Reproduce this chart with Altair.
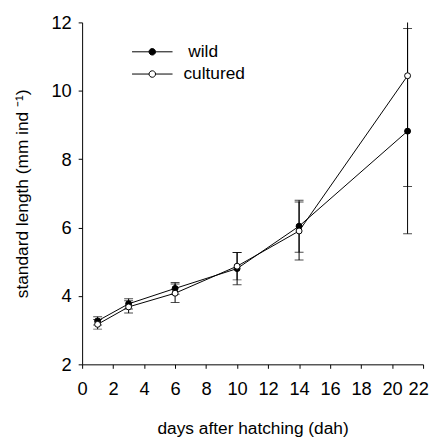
import altair as alt
import pandas as pd

# ---- data ----
days = [1, 3, 6, 10, 14, 21]
wild_mean = [3.27, 3.77, 4.22, 4.80, 6.04, 8.82]
wild_err = [0.12, 0.15, 0.17, 0.47, 0.76, 3.00]
cult_mean = [3.17, 3.68, 4.08, 4.87, 5.90, 10.44]
cult_err = [0.14, 0.18, 0.27, 0.40, 0.85, 3.24]
series = ["wild", "cultured"]
x_ticks = [0, 2, 4, 6, 8, 10, 12, 14, 16, 18, 20, 22]
y_ticks = [2, 4, 6, 8, 10, 12]

rows = []
for name, means, errs in [("wild", wild_mean, wild_err), ("cultured", cult_mean, cult_err)]:
    for d, m, e in zip(days, means, errs):
        rows.append(dict(day=d, mean=m, lo=m - e, hi=m + e, series=name))
df = pd.DataFrame(rows)

FONT = "Liberation Sans"
LFS = 18.5
TFS = 17.5

xscale = alt.Scale(domain=[0, 22], nice=False, zero=False)
yscale = alt.Scale(domain=[2, 12], nice=False, zero=False)

x_axis = alt.Axis(values=x_ticks, tickCount=12, title="days after hatching (dah)", format="d",
                  labelPadding=12, titleY=70, titleBaseline="alphabetic",
                  labelOverlap=False, labelFlush=False,
                  labelOffset={"condition": {"test": "datum.value == 22", "value": -5}, "value": 0})
y_axis = alt.Axis(values=y_ticks, title="standard length (mm ind \u207b\u00b9)", format="d",
                  labelPadding=7, titleX=-60, titleY=173, titleBaseline="middle",
                  titleAlign="center", titleAngle=270, labelOverlap=False, labelFlush=False)


def X(field):
    return alt.X(field, type="quantitative", scale=xscale, axis=x_axis)


def Y(field):
    return alt.Y(field, type="quantitative", scale=yscale, axis=y_axis)


base = alt.Chart(df)

lines = base.mark_line(color="black", strokeWidth=1).encode(
    x=X("day"), y=Y("mean"), detail="series:N",
)

rules = base.mark_rule(color="black", strokeWidth=1, clip=True).encode(
    x=X("day"), y=Y("lo"), y2="hi:Q"
)
cap_lo = base.mark_tick(orient="horizontal", size=9, thickness=1, color="black", clip=True).encode(
    x=X("day"), y=Y("lo")
)
cap_hi = base.mark_tick(orient="horizontal", size=9, thickness=1, color="black", clip=True).encode(
    x=X("day"), y=Y("hi")
)

sym_path = ("M-2,0L-0.32,0M0.32,0L2,0"
            "M-0.32,0A0.32,0.32,0,1,1,0.32,0A0.32,0.32,0,1,1,-0.32,0Z")

points = base.mark_point(shape="circle", filled=True, size=36, stroke="black",
                         strokeWidth=1, opacity=1, fillOpacity=1).encode(
    x=X("day"),
    y=Y("mean"),
    fill=alt.Fill(
        "series:N",
        scale=alt.Scale(domain=series, range=["black", "white"]),
        legend=alt.Legend(
            title=None, orient="none", legendX=60, legendY=18.75,
            symbolType=sym_path, symbolSize=420, symbolStrokeColor="black",
            symbolStrokeWidth=1, symbolOpacity=1,
            labelFont=FONT, labelFontSize=TFS, labelColor="black",
            labelOffset=20.5, padding=0, rowPadding=2.5,
            labelExpr="datum.label == 'wild' ? '\u200b\u00a0wild' : datum.label",
        ),
    ),
)

chart = alt.layer(lines, rules, cap_lo, cap_hi, points).properties(
    width=345, height=346,
    autosize=alt.AutoSizeParams(type="none"),
    padding={"left": 75, "top": 12, "right": 6, "bottom": 75},
    background="white",
).configure_view(stroke=None).configure_axis(
    grid=False, domainColor="black", domainWidth=1, tickColor="black", tickSize=4,
    tickWidth=1, labelColor="black", titleColor="black", labelFont=FONT, titleFont=FONT,
    labelFontSize=LFS, titleFontSize=TFS, titleFontWeight="normal",
)

chart.save("out.html", embed_options={"renderer": "svg", "actions": False})
